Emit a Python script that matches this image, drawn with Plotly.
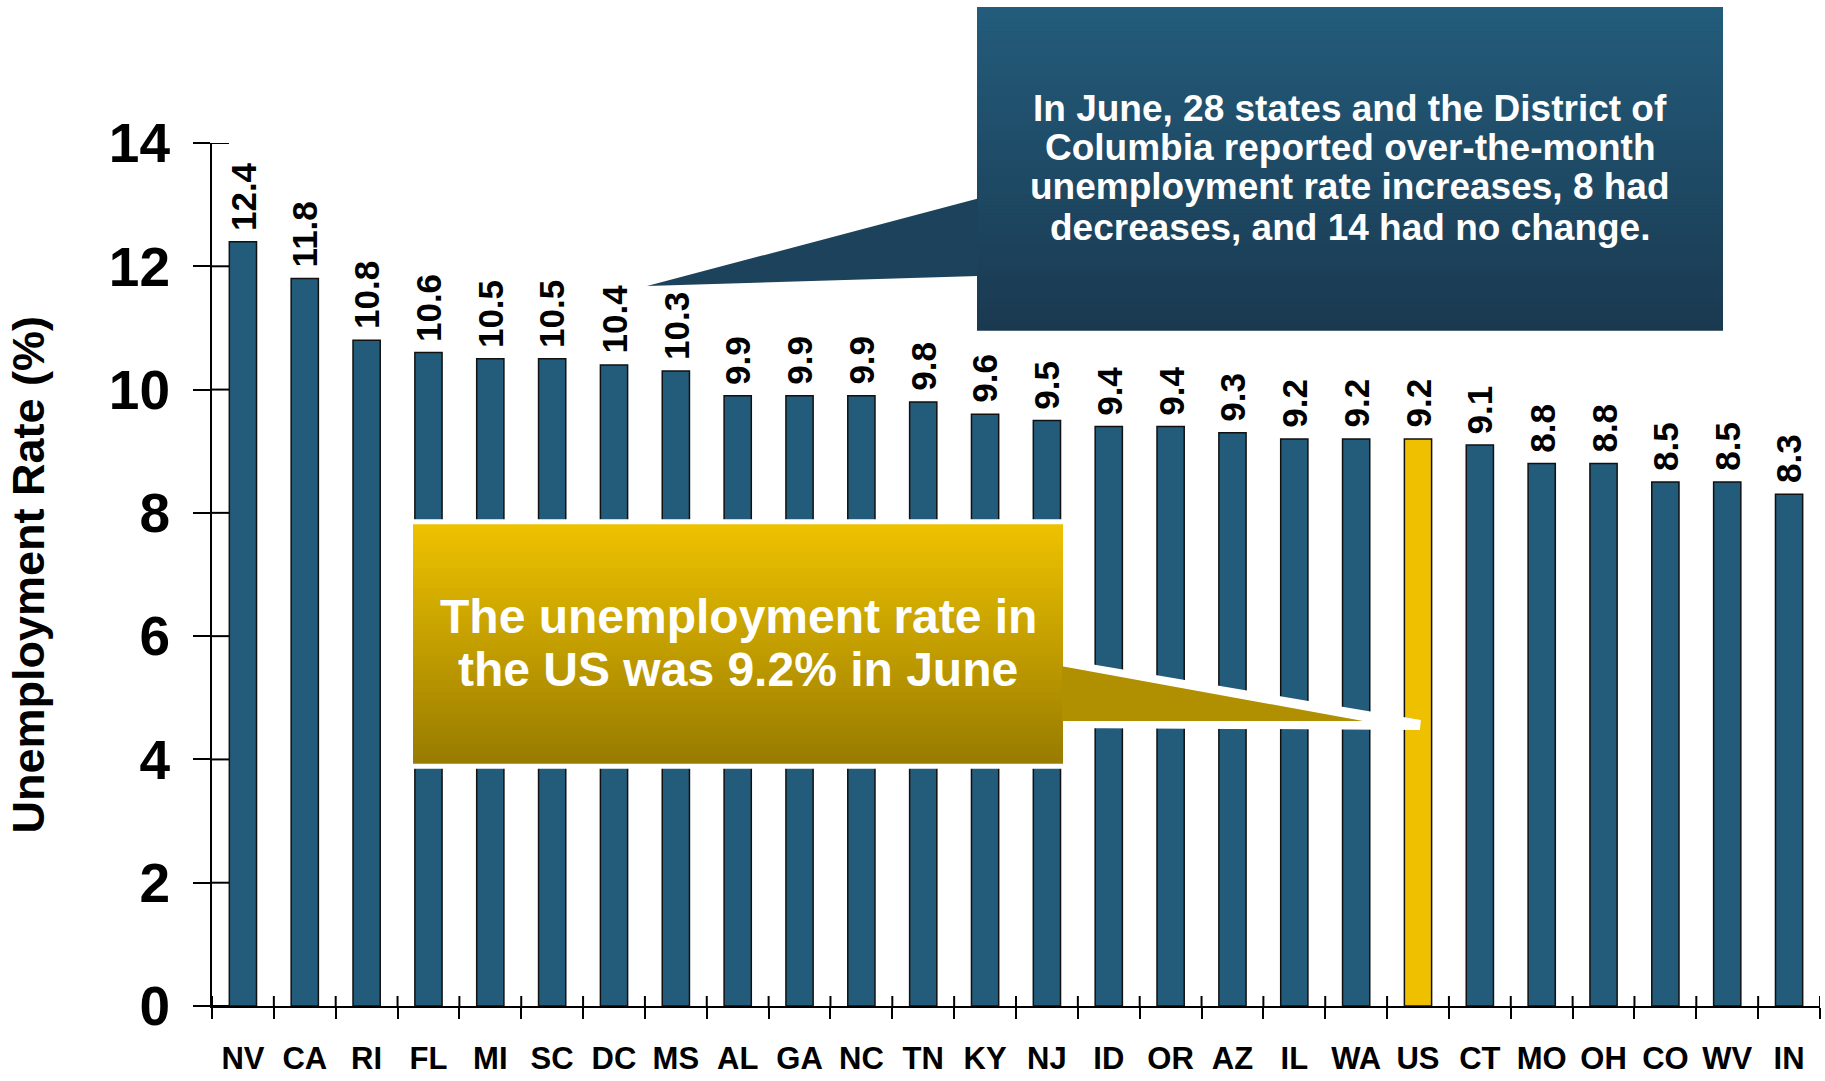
import plotly.graph_objects as go

# ---- data -------------------------------------------------------------
states = ["NV", "CA", "RI", "FL", "MI", "SC", "DC", "MS", "AL", "GA", "NC", "TN", "KY",
          "NJ", "ID", "OR", "AZ", "IL", "WA", "US", "CT", "MO", "OH", "CO", "WV", "IN"]
rates = [12.4, 11.8, 10.8, 10.6, 10.5, 10.5, 10.4, 10.3, 9.9, 9.9, 9.9, 9.8, 9.6,
         9.5, 9.4, 9.4, 9.3, 9.2, 9.2, 9.2, 9.1, 8.8, 8.8, 8.5, 8.5, 8.3]
y_ticks = [0, 2, 4, 6, 8, 10, 12, 14]
highlight = "US"

blue_note = ["In June, 28 states and the District of",
             "Columbia reported over-the-month",
             "unemployment rate increases, 8 had",
             "decreases, and 14 had no change."]
gold_note = ["The unemployment rate in",
             "the US was 9.2% in June"]

# ---- page geometry ----------------------------------------------------
FIG_W, FIG_H = 1825, 1081
M_L, M_R, M_T, M_B = 212, 5, 143, 69
PLOT_W = FIG_W - M_L - M_R
PLOT_H = FIG_H - M_T - M_B

FONT = "Liberation Sans, Arial, Helvetica, sans-serif"
BAR_BLUE = "#235B7A"
BAR_GOLD = "#EFC000"


def px(x):
    """page pixel x -> paper x"""
    return (x - M_L) / PLOT_W


def py(y):
    """page pixel y (from top) -> paper y"""
    return (FIG_H - M_B - y) / PLOT_H


def lerp(c0, c1, t):
    return "rgb(%d,%d,%d)" % tuple(round(a + (b - a) * t) for a, b in zip(c0, c1))


def path(points):
    return "M " + " L ".join("%.5f,%.5f" % (px(x), py(y)) for x, y in points) + " Z"


def gradient_rect(x0, y0, x1, y1, top, bottom, steps):
    out = []
    h = (y1 - y0) / steps
    for i in range(steps):
        ya = y0 + i * h
        yb = min(y1, ya + h + 1)
        out.append(dict(type="rect", xref="paper", yref="paper", layer="above",
                        x0=px(x0), x1=px(x1), y0=py(yb), y1=py(ya),
                        fillcolor=lerp(top, bottom, (i + 0.5) / steps),
                        line=dict(width=0)))
    return out


colors = [BAR_GOLD if s == highlight else BAR_BLUE for s in states]

fig = go.Figure(go.Bar(
    x=states, y=rates, width=0.44,
    marker=dict(color=colors, line=dict(color="#111111", width=1.5)),
    cliponaxis=False, hoverinfo="x+y",
))

shapes = []

# inner halves of the tick marks (ticks cross the axis lines)
for v in y_ticks:
    shapes.append(dict(type="line", xref="paper", yref="y", xsizemode="pixel", xanchor=0,
                       x0=0, x1=17, y0=v, y1=v, line=dict(color="black", width=2)))
for i in range(len(states) + 1):
    shapes.append(dict(type="line", xref="x", yref="paper", ysizemode="pixel", yanchor=0,
                       x0=i - 0.5, x1=i - 0.5, y0=0, y1=10, line=dict(color="black", width=2)))

# blue call-out (box + pointer)
B_TOP, B_BOT = (35, 92, 123), (26, 57, 80)
bx0, by0, bx1, by1 = 977, 6, 1723, 332
shapes += gradient_rect(bx0, by0, bx1, by1, B_TOP, B_BOT, 80)
shapes.append(dict(type="path", xref="paper", yref="paper", layer="above",
                   path=path([(bx0 + 1, 199), (647, 287), (bx0 + 1, 277)]),
                   fillcolor=lerp(B_TOP, B_BOT, 0.72), line=dict(width=0)))

# gold call-out (white halo, box, pointer)
G_TOP, G_BOT = (238, 194, 0), (152, 123, 0)
gx0, gy0, gx1, gy1 = 413, 527, 1063, 768
shapes.append(dict(type="path", xref="paper", yref="paper", layer="above",
                   path=path([(gx0, gy0), (gx1, gy0), (gx1, 668), (1420, 729), (gx1, 727),
                              (gx1, gy1), (gx0, gy1)]),
                   fillcolor="white", line=dict(color="white", width=10)))
shapes += gradient_rect(gx0, gy0, gx1, gy1, G_TOP, G_BOT, 60)
shapes.append(dict(type="path", xref="paper", yref="paper", layer="above",
                   path=path([(gx1 - 1, 670), (1363, 725), (gx1 - 1, 725)]),
                   fillcolor=lerp(G_TOP, G_BOT, 0.72), line=dict(width=0)))

annotations = []

# value labels above the bars
for s, v in zip(states, rates):
    annotations.append(dict(x=s, y=v, xref="x", yref="y", text=f"{v:.1f}",
                            textangle=-90, yanchor="bottom", xanchor="center",
                            yshift=9, showarrow=False,
                            font=dict(family=FONT, size=35, color="black", weight="bold")))

# y axis title
annotations.append(dict(x=px(28), y=0.5, xref="paper", yref="paper",
                        text="Unemployment Rate (%)", textangle=-90,
                        xanchor="center", yanchor="middle", showarrow=False,
                        font=dict(family=FONT, size=45, color="black", weight="bold")))

# call-out texts
for line, yy in zip(blue_note, [108, 148, 187, 228]):
    annotations.append(dict(x=px((bx0 + bx1) / 2), y=py(yy), xref="paper", yref="paper",
                            text=line, showarrow=False, xanchor="center", yanchor="middle",
                            font=dict(family=FONT, size=37, color="white", weight="bold")))
for line, yy in zip(gold_note, [620, 673]):
    annotations.append(dict(x=px((gx0 + gx1) / 2), y=py(yy), xref="paper", yref="paper",
                            text=line, showarrow=False, xanchor="center", yanchor="middle",
                            font=dict(family=FONT, size=48, color="white", weight="bold")))

fig.update_layout(
    width=FIG_W, height=FIG_H,
    margin=dict(l=M_L, r=M_R, t=M_T, b=M_B, pad=0),
    paper_bgcolor="white", plot_bgcolor="white",
    showlegend=False,
    shapes=shapes, annotations=annotations,
    xaxis=dict(type="category", range=[-0.5, len(states) - 0.5],
               showline=True, linecolor="black", linewidth=2,
               ticks="outside", ticklen=11, tickwidth=2, tickcolor="black",
               tickson="boundaries", tickangle=0, ticklabelstandoff=24,
               showgrid=False, zeroline=False,
               tickfont=dict(family=FONT, size=31, color="black", weight="bold")),
    yaxis=dict(range=[0, 14], tickvals=y_ticks, ticktext=[str(v) for v in y_ticks],
               showline=True, linecolor="black", linewidth=2,
               ticks="outside", ticklen=17, tickwidth=2, tickcolor="black",
               ticklabelstandoff=12, showgrid=False, zeroline=False,
               tickfont=dict(family=FONT, size=55, color="black", weight="bold")),
)

fig.write_html("out.html")
